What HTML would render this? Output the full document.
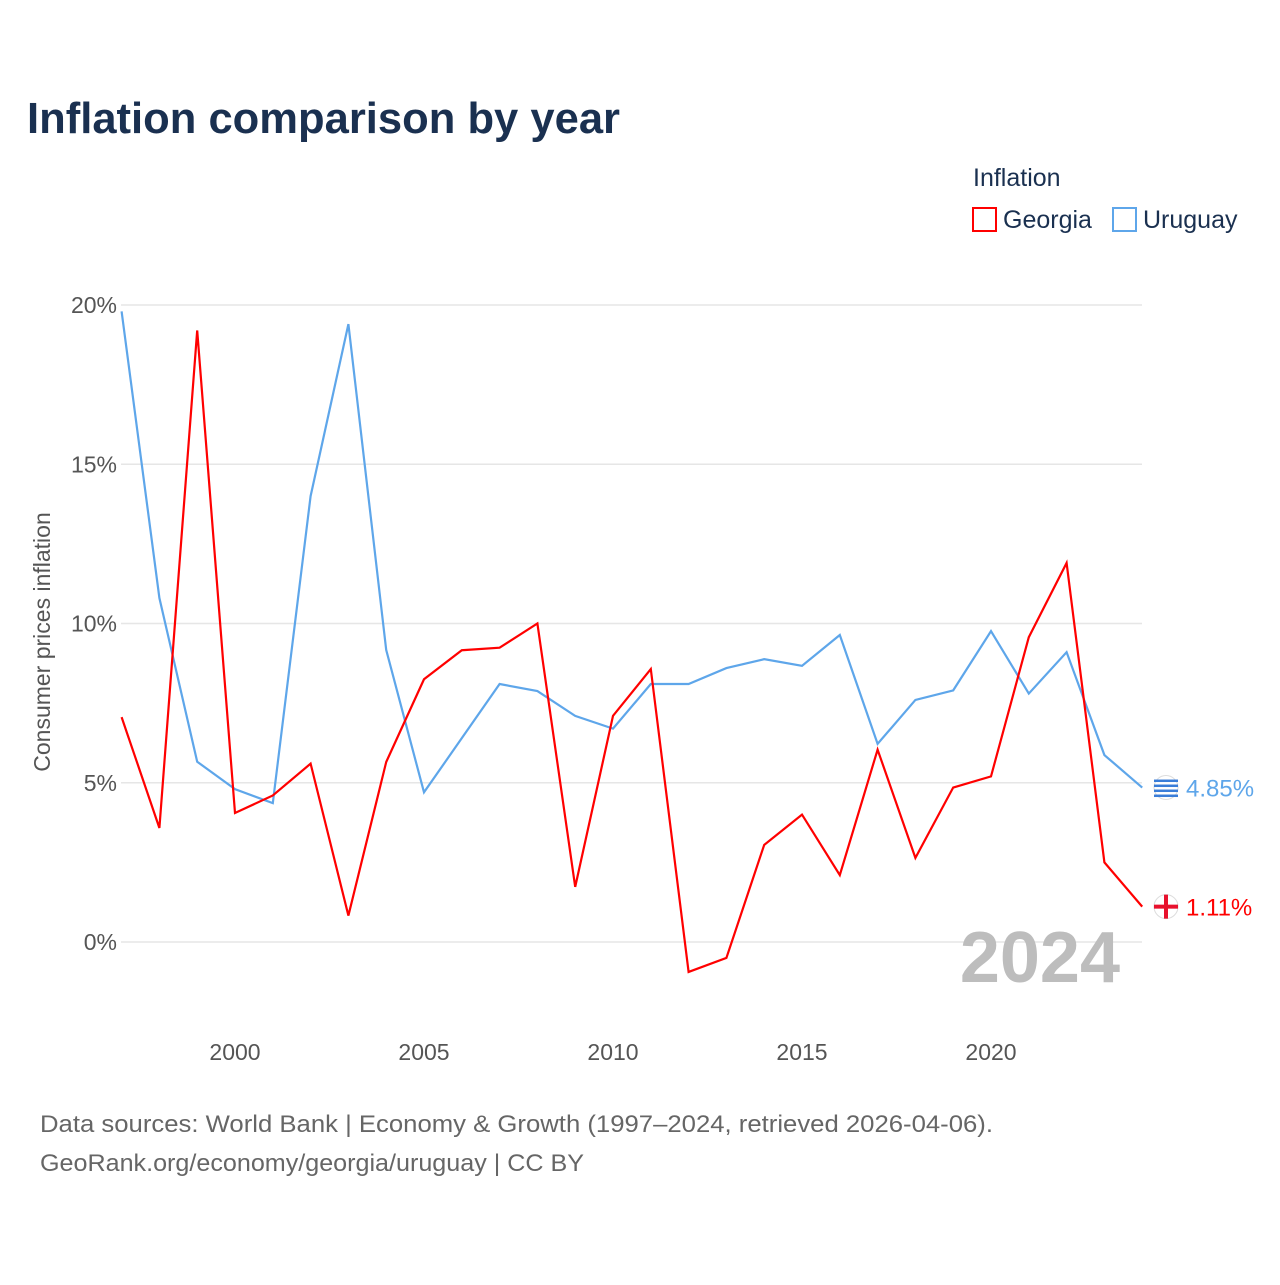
<!DOCTYPE html>
<html><head><meta charset="utf-8"><style>
body{margin:0;background:#fff;font-family:"Liberation Sans",sans-serif;}
svg text{font-family:"Liberation Sans",sans-serif;}
</style></head><body>
<svg id="chart" width="1280" height="1280" viewBox="0 0 1280 1280">
<text x="27" y="133" font-size="44" font-weight="bold" fill="#1a3050" textLength="593" lengthAdjust="spacingAndGlyphs">Inflation comparison by year</text>
<text x="973" y="186" font-size="25" fill="#1a3050">Inflation</text>
<g><rect x="973" y="208" width="23" height="23" fill="none" stroke="#ff0000" stroke-width="2"/><text x="1003" y="228" font-size="25" fill="#1a3050">Georgia</text></g>
<g><rect x="1113" y="208" width="23" height="23" fill="none" stroke="#5ea6ea" stroke-width="2"/><text x="1143" y="228" font-size="25" fill="#1a3050">Uruguay</text></g>
<g id="grid"></g>
<g id="xt"></g>
<text x="1120" y="982" font-size="72" font-weight="bold" fill="#bdbdbd" text-anchor="end">2024</text>
<text transform="translate(50,642) rotate(-90)" font-size="23" fill="#555" text-anchor="middle">Consumer prices inflation</text>
<g id="series"></g>
<text x="40" y="1132" font-size="24" fill="#666" textLength="953" lengthAdjust="spacingAndGlyphs">Data sources: World Bank | Economy &amp; Growth (1997–2024, retrieved 2026-04-06).</text>
<text x="40" y="1171" font-size="24" fill="#666" textLength="544" lengthAdjust="spacingAndGlyphs">GeoRank.org/economy/georgia/uruguay | CC BY</text>
</svg>
<script>
const years=[1997,1998,1999,2000,2001,2002,2003,2004,2005,2006,2007,2008,2009,2010,2011,2012,2013,2014,2015,2016,2017,2018,2019,2020,2021,2022,2023,2024];
const georgia=[7.06,3.58,19.2,4.05,4.6,5.6,0.83,5.65,8.25,9.16,9.24,10.0,1.73,7.1,8.57,-0.94,-0.5,3.05,4.0,2.1,6.04,2.64,4.85,5.2,9.57,11.9,2.5,1.11];
const uruguay=[19.8,10.8,5.66,4.8,4.36,14.0,19.4,9.17,4.7,6.4,8.1,7.88,7.1,6.7,8.1,8.1,8.6,8.88,8.67,9.64,6.22,7.6,7.9,9.76,7.8,9.1,5.87,4.85];
const yTicks=[0,5,10,15,20];
const xTicks=[2000,2005,2010,2015,2020];
const NS="http://www.w3.org/2000/svg";
const x=y=>121.6+(y-1997)*37.8;
const yv=v=>942-v*31.85;
function mk(t,a,p){const e=document.createElementNS(NS,t);for(const k in a)e.setAttribute(k,a[k]);p.appendChild(e);return e;}
const grid=document.getElementById('grid');
yTicks.forEach(t=>{
 const l=mk('line',{x1:121,x2:1142,y1:yv(t),y2:yv(t),stroke:'#e6e6e6','stroke-width':1.5},grid);
 
 
 const tx=mk('text',{x:117,y:yv(t)+8,'font-size':23,fill:'#555','text-anchor':'end'},grid);tx.textContent=t+'%';
 
 
});
const xt=document.getElementById('xt');
xTicks.forEach(t=>{
 const tx=mk('text',{x:x(t),y:1060,'font-size':23,fill:'#555','text-anchor':'middle'},xt);tx.textContent=t;
 
 
});
const s=document.getElementById('series');
function line(vals,col,name){
 const p=mk('polyline',{points:vals.map((v,i)=>x(years[i])+','+yv(v)).join(' '),fill:'none',stroke:col,'stroke-width':2.2},s);
 
 
 const lv=vals[vals.length-1];
 const c=mk('circle',{cx:1166,cy:yv(lv),r:12,fill:'#fff',stroke:'#ddd'},s);
 
 
 if(name=='georgia'){mk('rect',{x:1154,y:yv(lv)-2,width:24,height:4,fill:'#e8112d'},s);mk('rect',{x:1164,y:yv(lv)-12,width:4,height:24,fill:'#e8112d'},s);}
 else{for(let k=-8;k<=8;k+=5)mk('rect',{x:1154,y:yv(lv)+k,width:24,height:2.5,fill:'#3a7dd8'},s);}
 const t=mk('text',{x:1186,y:yv(lv)+9,'font-size':24,fill:col},s);t.textContent=lv.toFixed(2)+'%';
 
 
}
line(uruguay,'#5ea6ea','uruguay');
line(georgia,'#ff0000','georgia');
</script>
</body></html>
